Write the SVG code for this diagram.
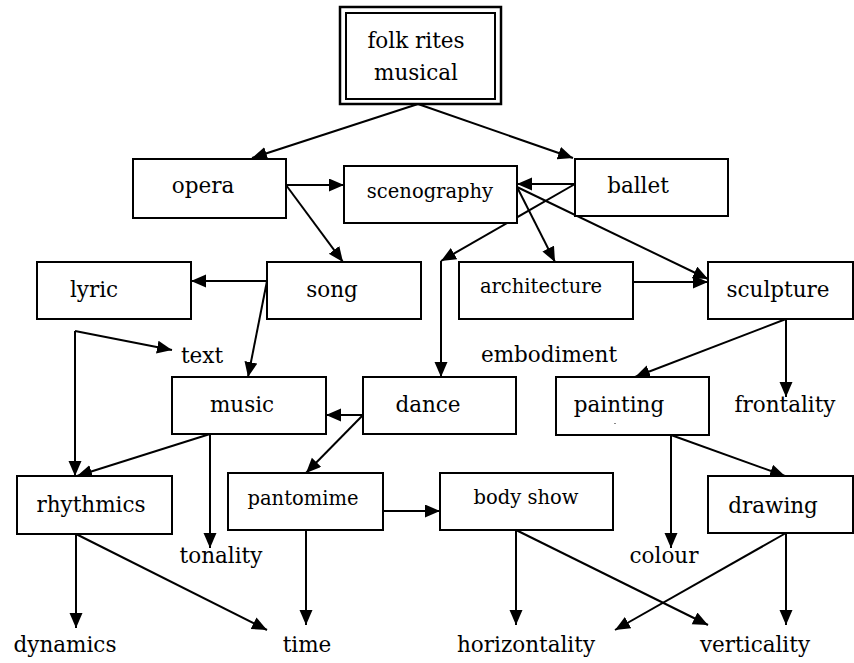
<svg xmlns="http://www.w3.org/2000/svg" width="854" height="663" viewBox="0 0 854 663">
<style>
.box{fill:#fff;stroke:#000;stroke-width:2}
text{font-family:'DejaVu Serif','Liberation Serif',serif;font-size:21.5px;fill:#000;text-anchor:middle}
text.s{font-size:19.5px}
.c line{stroke:#000;stroke-width:2;fill:none;marker-end:url(#ah)}
</style>
<defs>
<marker id="ah" markerUnits="userSpaceOnUse" markerWidth="16" markerHeight="14" refX="15" refY="6.5" orient="auto">
<path d="M0,0 L15,6.5 L0,13 z" fill="#000"/>
</marker>
</defs>
<rect width="854" height="663" fill="#fff"/>
<g class="c" id="connectors">
<line x1="418" y1="104" x2="252" y2="158"/>
<line x1="418" y1="104" x2="573" y2="158"/>
<line x1="286" y1="185" x2="344" y2="185"/>
<line x1="575" y1="184" x2="517" y2="184"/>
<line x1="286" y1="185" x2="343" y2="262"/>
<line x1="575" y1="184" x2="441" y2="261"/>
<line x1="441" y1="261" x2="441" y2="377"/>
<line x1="517" y1="187" x2="555" y2="262"/>
<line x1="517" y1="187" x2="708" y2="279"/>
<line x1="633" y1="282" x2="708" y2="282"/>
<line x1="267" y1="281" x2="191" y2="281"/>
<line x1="267" y1="281" x2="248" y2="377"/>
<line x1="75" y1="331" x2="172" y2="350"/>
<line x1="75" y1="331" x2="75" y2="476"/>
<line x1="363" y1="415" x2="326" y2="415"/>
<line x1="363" y1="415" x2="306" y2="473"/>
<line x1="786" y1="319" x2="635" y2="377"/>
<line x1="786" y1="319" x2="786" y2="397"/>
<line x1="210" y1="434" x2="77" y2="476"/>
<line x1="210" y1="434" x2="210" y2="548"/>
<line x1="383" y1="511" x2="440" y2="511"/>
<line x1="671" y1="435" x2="671" y2="548"/>
<line x1="671" y1="435" x2="785" y2="476"/>
<line x1="76" y1="534" x2="76" y2="628"/>
<line x1="76" y1="534" x2="267" y2="630"/>
<line x1="306" y1="530" x2="306" y2="625"/>
<line x1="516" y1="530" x2="516" y2="625"/>
<line x1="516" y1="530" x2="708" y2="625"/>
<line x1="786" y1="533" x2="615" y2="630"/>
<line x1="786" y1="533" x2="786" y2="625"/>
</g>
<g id="folk">
<rect x="340" y="7" width="161" height="97" fill="#fff" stroke="#000" stroke-width="2.5"/>
<rect x="346" y="13" width="149" height="86" fill="none" stroke="#000" stroke-width="2"/>
<text x="416" y="48">folk rites</text>
<text x="416" y="80">musical</text>
</g>
<g id="opera"><rect class="box" x="133" y="159" width="153" height="59"/><text x="203" y="193">opera</text></g>
<g id="scenography"><rect class="box" x="344" y="166" width="173" height="57"/><text class="s" x="430" y="198">scenography</text></g>
<g id="ballet"><rect class="box" x="575" y="159" width="153" height="57"/><text x="638" y="193">ballet</text></g>
<g id="lyric"><rect class="box" x="37" y="262" width="154" height="57"/><text x="94" y="297">lyric</text></g>
<g id="song"><rect class="box" x="267" y="262" width="154" height="57"/><text x="332" y="297">song</text></g>
<g id="architecture"><rect class="box" x="459" y="262" width="174" height="57"/><text class="s" x="541" y="293">architecture</text></g>
<g id="sculpture"><rect class="box" x="708" y="262" width="145" height="57"/><text x="778" y="297">sculpture</text></g>
<g id="text"><text x="202" y="363">text</text></g>
<g id="embodiment"><text x="549" y="362">embodiment</text></g>
<g id="music"><rect class="box" x="172" y="377" width="154" height="57"/><text x="242" y="412">music</text></g>
<g id="dance"><rect class="box" x="363" y="377" width="153" height="57"/><text x="428" y="412">dance</text></g>
<g id="painting"><rect class="box" x="556" y="377" width="153" height="58"/><text x="619" y="412">painting</text><rect x="614" y="423" width="2" height="1" fill="#888"/></g>
<g id="frontality"><text x="785" y="412">frontality</text></g>
<g id="rhythmics"><rect class="box" x="17" y="476" width="155" height="58"/><text x="91" y="512">rhythmics</text></g>
<g id="pantomime"><rect class="box" x="228" y="473" width="155" height="57"/><text class="s" x="303" y="505">pantomime</text></g>
<g id="bodyshow"><rect class="box" x="440" y="473" width="173" height="57"/><text class="s" x="526" y="504">body show</text></g>
<g id="drawing"><rect class="box" x="708" y="476" width="145" height="57"/><text x="773" y="513">drawing</text></g>
<g id="tonality"><text x="221" y="563">tonality</text></g>
<g id="colour"><text x="664" y="563">colour</text></g>
<g id="dynamics"><text x="65" y="652">dynamics</text></g>
<g id="time"><text x="307" y="652">time</text></g>
<g id="horizontality"><text x="526" y="652">horizontality</text></g>
<g id="verticality"><text x="755" y="652">verticality</text></g>
</svg>
